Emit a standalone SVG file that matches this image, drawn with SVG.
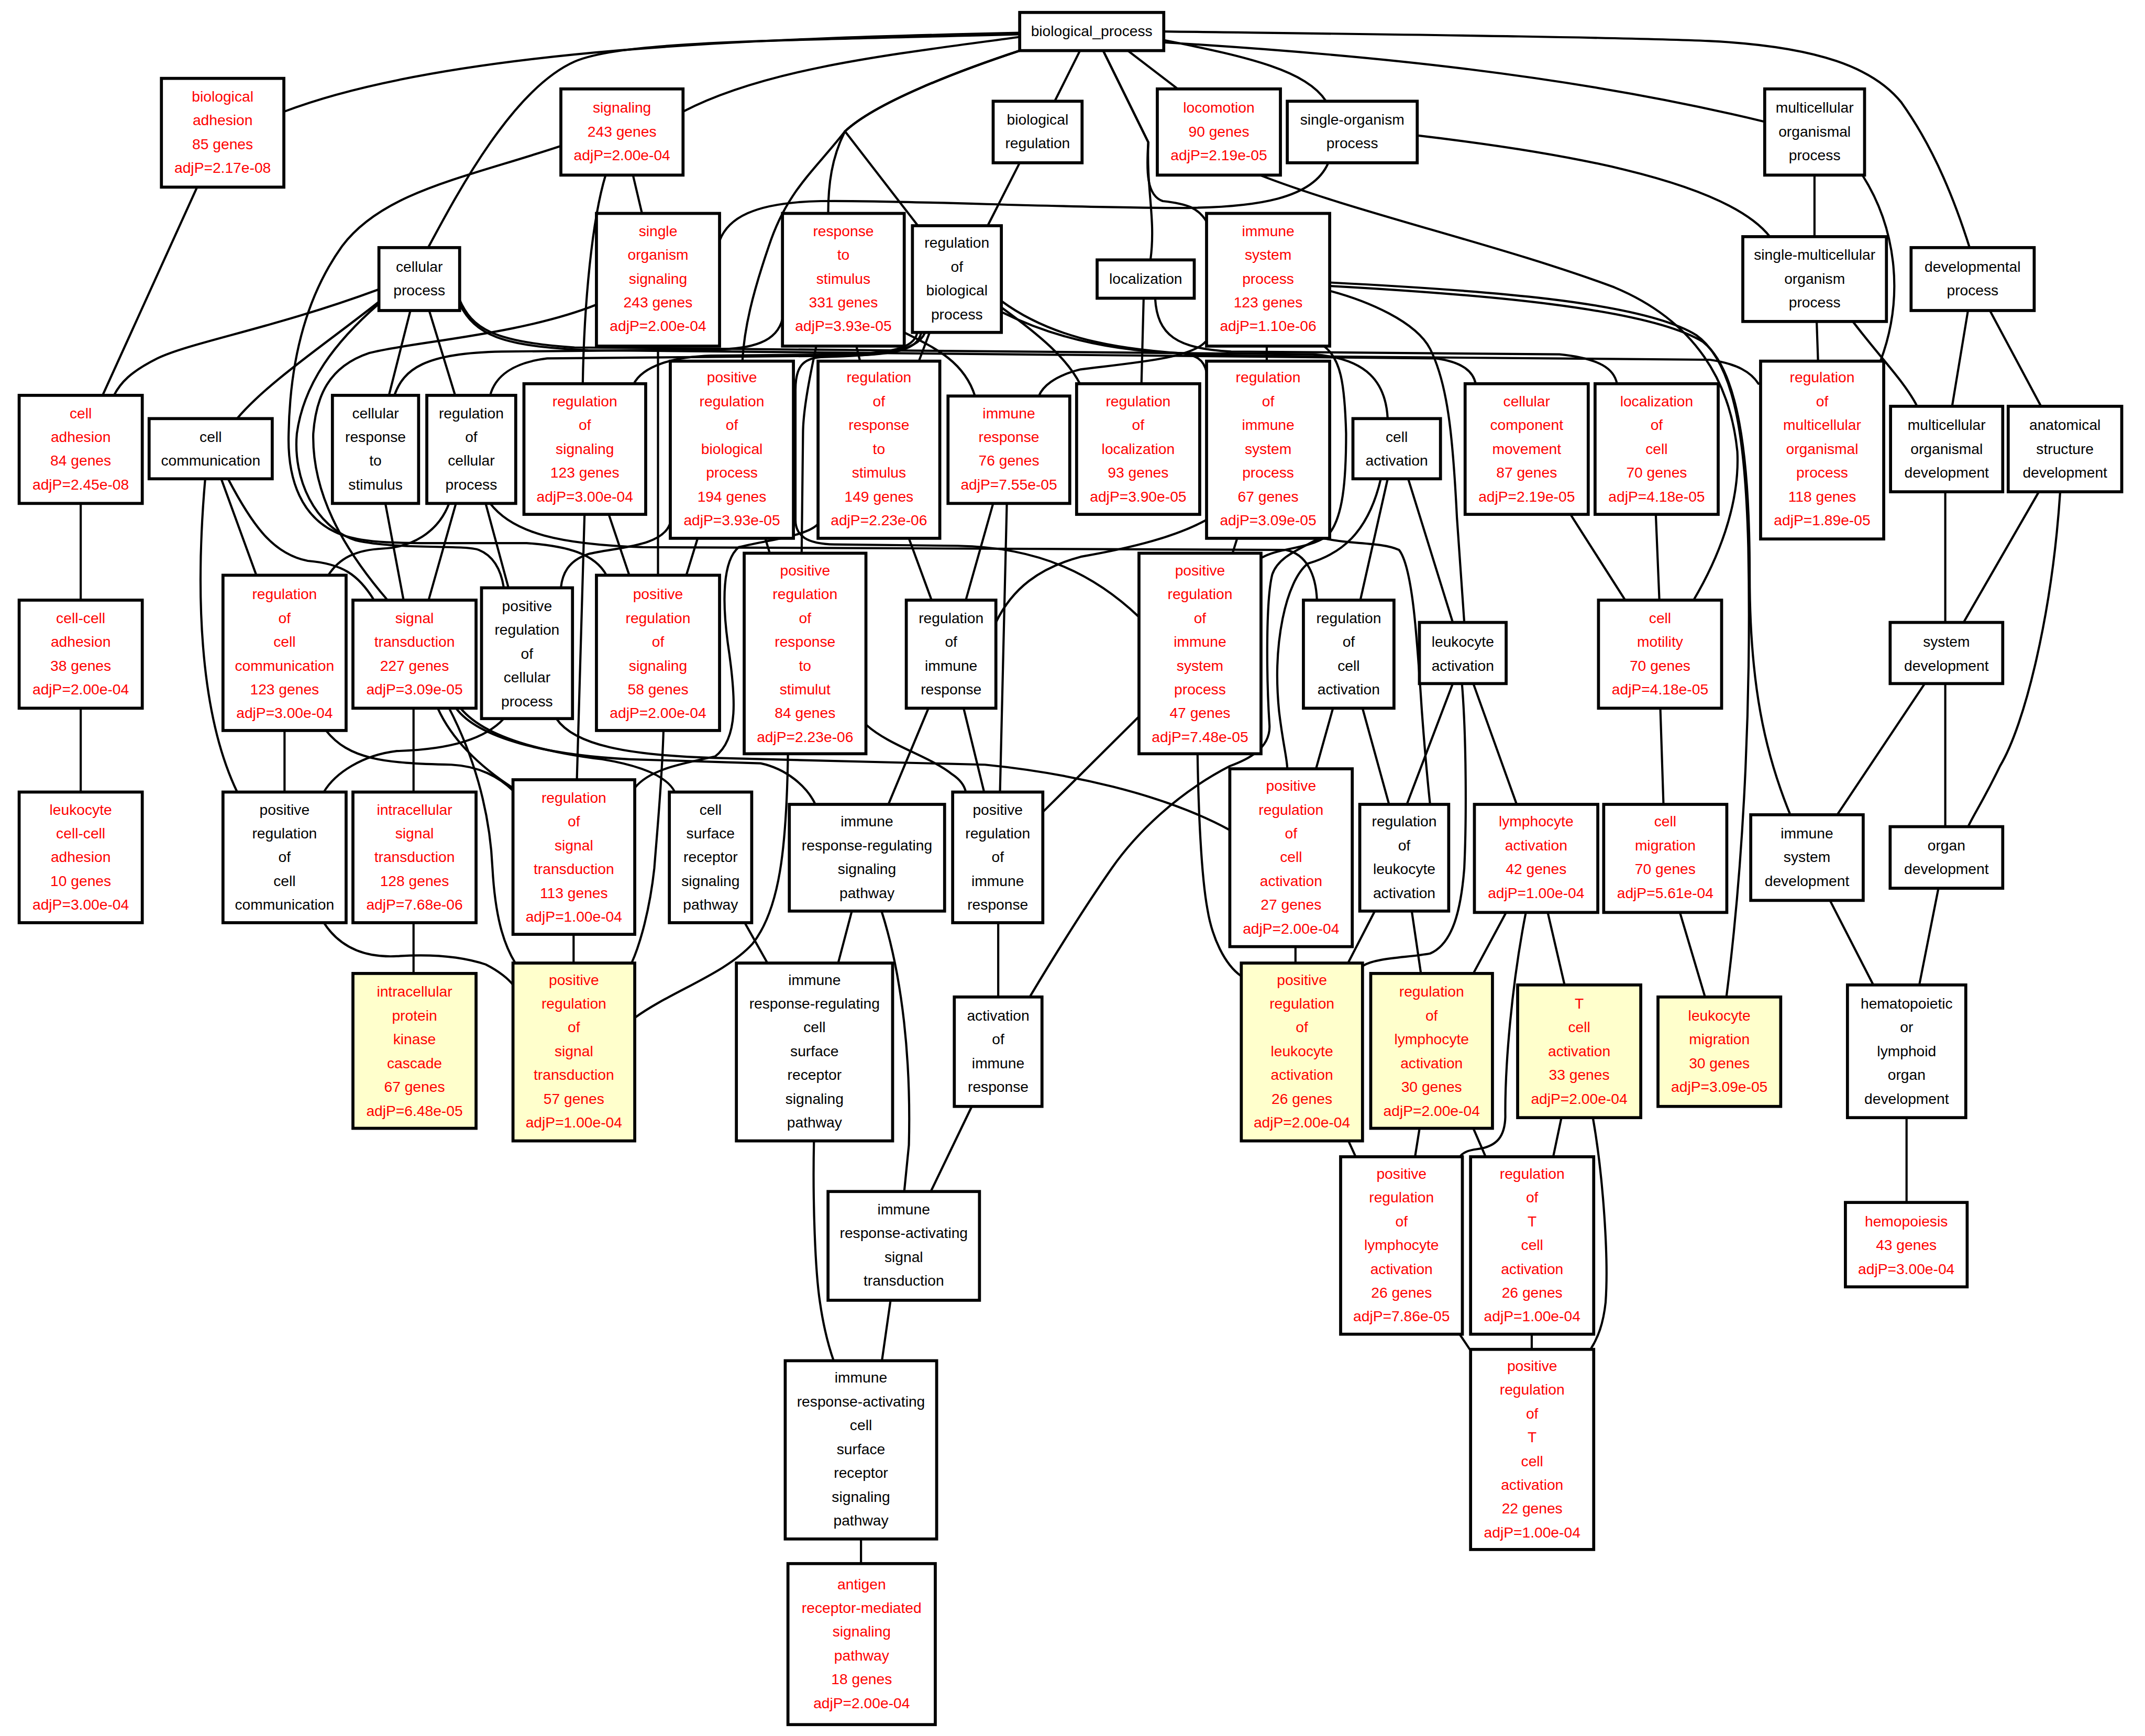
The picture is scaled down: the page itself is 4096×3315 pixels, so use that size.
<svg xmlns="http://www.w3.org/2000/svg" width="4096" height="3315" viewBox="0 0 4096 3315">
<style>
.nb rect{fill:#fff;stroke:#000;stroke-width:2.2}
.ny rect{fill:#ffffcc;stroke:#000;stroke-width:2.2}
text{font-family:"Liberation Sans",Arial,Helvetica,sans-serif;font-size:10.8px;text-anchor:middle}
.k{fill:#000}
.r{fill:#f00}
#edges path{fill:none;stroke:#000;stroke-width:1.6;stroke-linecap:round}
</style>
<rect width="4096" height="3315" fill="#fff"/>
<g transform="scale(2.61224)">
<g id="edges">
<path d="M745.4,24 C560,28 330,35 207.7,81.6"/>
<path d="M745.4,25 C560,30 455,30 420,45 C375,65 335,140 313,181"/>
<path d="M745.4,27 C650,40 560,50 499.3,81.6"/>
<path d="M745.4,37 C700,52 640,75 617.7,96 C608,115 605.4,135 605.4,156"/>
<path d="M745.4,37 C700,52 640,75 617.7,96 L671,165"/>
<path d="M745.4,37 C700,52 640,75 617.7,96 C595,125 575,140 562,180 C550,215 544,240 542.7,264"/>
<path d="M789.5,37 L771,74"/>
<path d="M806.4,37 L839.4,104 C838,140 845,160 841,190"/>
<path d="M806.4,37 L839.4,104 C838,125 838,143 850,147 C868,149 876,152 882,162"/>
<path d="M824.4,37 L861,65"/>
<path d="M851,29.4 C915,42 955,52 969.4,74"/>
<path d="M851,31 C1000,40 1150,55 1290,89"/>
<path d="M851,23 C1000,25 1180,27 1250,30 C1330,34 1370,50 1390,75 C1415,110 1430,150 1439.8,181"/>
<path d="M1036,99 C1130,110 1260,130 1293.8,173"/>
<path d="M971,119 C960,145 920,152 860,152 C780,152 650,146 600,147 C550,148 532,160 526,176"/>
<path d="M1326.4,128 L1326.4,173"/>
<path d="M1361.4,128 C1385,165 1393,215 1374.6,264"/>
<path d="M1328,235 L1329,264"/>
<path d="M1354.4,235 C1375,262 1393,280 1401.4,297"/>
<path d="M1438.6,227 L1427,297"/>
<path d="M1454.6,227 L1492,297"/>
<path d="M144,137 L75,289"/>
<path d="M745.4,119 L722,165"/>
<path d="M462.7,128 L469.3,156"/>
<path d="M442.7,128 C433,160 427,220 426,280.5"/>
<path d="M410,106.7 C340,130 280,140 250,180 C225,215 212,260 211,317 C210,350 220,380 250,391 C270,398 300,397 340,397 L385,397 C415,399 435,405 443.3,420.5"/>
<path d="M277,211.5 C200,240 140,250 115,262 C95,272 88,280 83.3,289"/>
<path d="M277,220.6 C240,250 195,280 173.3,306"/>
<path d="M300,227 L284.3,289"/>
<path d="M313.7,227 L332.7,289"/>
<path d="M277,222 C245,250 222,280 217,317 C214,350 230,385 260,395 C290,402 340,398 350,402 C360,406 366,415 368.3,429.7"/>
<path d="M436,222.7 C380,245 300,250 270,258 C240,268 231,290 229,317 C228,360 250,400 283.3,438.7"/>
<path d="M150,350 C143,430 145,520 173.4,579"/>
<path d="M161.7,350 L187.4,420.5"/>
<path d="M166.7,350 C185,385 200,405 225,410 C250,412 262,420 273.4,438.7"/>
<path d="M281.7,368 L295,438.7"/>
<path d="M328.3,368 C320,390 300,400 280,401 C260,402 248,408 240,420.5"/>
<path d="M333.3,368 L313.3,438.7"/>
<path d="M355,368 L371.7,429.7"/>
<path d="M358.3,368 C375,390 410,398 470,400 L940,402 C955,405 962,420 962.7,438.7"/>
<path d="M572,233 C568,250 550,255 522.7,255.5 L366.7,257 C310,258 295,270 288.3,289"/>
<path d="M596.7,253 C592,275 587,300 587,317 L586,404.4"/>
<path d="M626,253 L628.7,264"/>
<path d="M661,243 C685,255 705,265 712.7,289.5"/>
<path d="M670.4,243.5 C668,255 650,258 620,259 L520,260 C490,261 470,268 463.3,280.5"/>
<path d="M673.4,243.5 C670,256 655,259 620,260 L400,262 C375,265 362,275 358.3,289"/>
<path d="M679.4,243.5 L671.7,264"/>
<path d="M732,224.7 C760,245 780,262 789.4,280.5"/>
<path d="M732,220 C770,248 820,258 900,260 L1250,263 C1270,266 1280,272 1285.4,280.5"/>
<path d="M732,228 C780,252 830,257 860,258 C875,259 880,263 882,272"/>
<path d="M676,243.5 C670,258 640,260 600,261 C587,262 581.5,268 581.5,285 L581.5,380 C581.5,392 590,397.5 610,398 L700,399 C760,400 800,420 832.6,451"/>
<path d="M836,218 L834.4,280.5"/>
<path d="M844.4,218 C846,245 860,255 900,257 L1140,259 C1170,262 1180,270 1182,280.5"/>
<path d="M926,253 L926,264"/>
<path d="M881,250 C870,262 830,265 790,270 C770,275 762,283 759.4,289.5"/>
<path d="M967.7,253 C980,262 983,280 984,317 C984,350 982,380 970,392 C955,402 935,400 921.8,408"/>
<path d="M971.7,212.5 C1000,220 1035,235 1045.4,255 C1058,280 1062,317 1065,378 L1070.4,455"/>
<path d="M971.7,206.5 C1080,212 1200,220 1240,245 C1268,265 1276,320 1278,400 C1280,500 1276,620 1262,728.8"/>
<path d="M971.7,209 C1080,215 1205,225 1245,250 C1270,270 1279,330 1279,420 C1279,500 1290,550 1308.7,595.6"/>
<path d="M921,128 C990,155 1100,180 1180,210 C1240,235 1265,280 1270,330 C1272,370 1255,410 1238,438.7"/>
<path d="M335.7,218.6 C345,240 360,250 420,254 L960,259 C1000,262 1013,280 1014.4,306"/>
<path d="M335.7,222 C348,245 365,253 430,256 L1050,262 C1070,265 1077,272 1078.7,280.5"/>
<path d="M427.3,376 L421.7,570"/>
<path d="M445,376 L460,420.5"/>
<path d="M481,253 L481,420.5"/>
<path d="M510,393.5 L501.7,420.5"/>
<path d="M490,382 C485,400 450,400 430,405 C415,410 411,420 410,429.7"/>
<path d="M559.4,393.5 L562.7,404.4"/>
<path d="M598,383 C590,392 560,395 540,400 C528,410 528,440 532,470 C538,510 540,540 522.7,553 C500,558 475,562 464,576"/>
<path d="M664.4,393.5 L681,438.7"/>
<path d="M726,368 L706,438.7"/>
<path d="M736,368 L731,579"/>
<path d="M882,380 C860,392 830,400 790,407 C760,415 740,430 728,455"/>
<path d="M904.4,393.5 L901,404.4"/>
<path d="M968,393.5 C985,398 1010,396 1022.7,402 C1033,415 1036,470 1039.4,520 C1042,555 1044,575 1045.4,588"/>
<path d="M1014.4,350 L994.4,438.7"/>
<path d="M1029.4,350 L1062,455"/>
<path d="M1009.4,350 C1000,390 980,405 956,412 C940,425 930,470 935,520 C938,545 941,555 941,562"/>
<path d="M970,390 C955,400 935,405 930,420 C925,440 926,500 928,530 C929,548 910,556 899,560 C860,580 830,610 812.7,634.7 C795,660 770,700 752.7,728.8"/>
<path d="M974.4,517.7 L962,562"/>
<path d="M996,517.7 L1015.4,588"/>
<path d="M1062,499.7 L1028.4,588"/>
<path d="M1068.7,499.7 C1072,540 1072,600 1070.4,634.7 C1068,665 1062,690 1045.4,697 C1030,700 1005,700 996,706.2"/>
<path d="M1077,499.7 L1108.7,588"/>
<path d="M1213.7,517.7 L1216,588"/>
<path d="M1148,376 L1188,438.7"/>
<path d="M1210.4,376 L1213,438.7"/>
<path d="M1422,359.5 L1422,455"/>
<path d="M1490.4,359.5 L1435.4,455"/>
<path d="M1506,359.5 C1500,450 1480,530 1462,560 C1450,585 1443,595 1438.7,604.3"/>
<path d="M1407,499.7 L1343,595.6"/>
<path d="M1422,499.7 L1422,604.3"/>
<path d="M1337.7,658.2 L1369.4,720"/>
<path d="M1417,649.3 L1403,720"/>
<path d="M1393.7,817 L1393.7,879"/>
<path d="M1228,667 L1246.4,728.8"/>
<path d="M59,368 L59,438.7"/>
<path d="M59,517.7 L59,579"/>
<path d="M208,534 L208,579"/>
<path d="M238.3,534 C255,555 280,558 330,559 C350,560 365,568 375,578"/>
<path d="M368.3,525.3 C355,540 330,548 290,549 C265,552 245,565 236.7,579"/>
<path d="M406.7,525.3 C420,545 460,552 520,554 L720,559 C780,565 850,580 899,606.8"/>
<path d="M302.3,517.7 L302.3,579"/>
<path d="M320,517.7 C330,540 350,560 375,576"/>
<path d="M328.3,517.7 C345,550 358,590 360,634.7 C362,670 368,690 376.7,704"/>
<path d="M333.3,517.7 C350,540 400,552 460,555 L556,558 C575,562 590,575 596,588"/>
<path d="M336.7,517.7 C355,540 400,550 440,555 C470,560 488,568 493.3,579"/>
<path d="M485,534 C484,570 481,600 478.3,634.7 C475,665 468,690 461.7,704"/>
<path d="M236.7,674.5 C250,695 270,700 290,699 C320,697 340,700 355,705 C365,710 372,716 375,720"/>
<path d="M302.3,674.5 L302.3,711.6"/>
<path d="M419.3,683 L419.3,704"/>
<path d="M576,551 C575,620 570,665 550,690 C530,712 490,725 464,744"/>
<path d="M633.4,530 C650,545 680,553 696,566 C702,570 705,574 706,579"/>
<path d="M544.4,674.5 L561,704"/>
<path d="M622.7,666 L612.7,704"/>
<path d="M644.4,666 C660,715 666,776 664.4,837 L661,871"/>
<path d="M678.7,517.7 L649.4,588"/>
<path d="M704.4,517.7 L719.4,579"/>
<path d="M832.6,523.8 L762.3,593.6"/>
<path d="M875.4,551 C876,590 878,640 882.7,665 C886,685 895,705 907.4,713.6"/>
<path d="M947,692 L947,704"/>
<path d="M1005,666 L985.4,704"/>
<path d="M1032,666 L1038.7,711.6"/>
<path d="M1101,667 L1077,711.6"/>
<path d="M1115.4,667 C1105,720 1100,780 1100.4,816.5 C1100,830 1095,838 1080,840 C1072,841 1069,843 1067,845.6"/>
<path d="M1131.4,667 L1143.7,720"/>
<path d="M985.7,834 L991,845.6"/>
<path d="M1037.7,824.8 L1034.4,845.6"/>
<path d="M1077,824.8 L1086,845.6"/>
<path d="M1141.4,817 L1135.4,845.6"/>
<path d="M1164.4,817 C1172,860 1176,920 1173.7,952 C1172,968 1168,978 1162.7,986.4"/>
<path d="M1067,975.3 L1074.4,986.4"/>
<path d="M1119.7,975.3 L1119.7,986.4"/>
<path d="M595,834 C594,880 596,930 599.4,952 C602,970 606,985 609.4,994.7"/>
<path d="M710.4,808.8 L680.4,871"/>
<path d="M651,950.5 L644.7,994.7"/>
<path d="M629.4,1125 L629.4,1143"/>
<path d="M729.7,674.5 L729.7,728.8"/>
</g>
<g id="n_bp" class="nb"><rect x="745.4" y="9.1" width="105.3" height="27.9"/><text class="k" y="26.35"><tspan x="798.05">biological_process</tspan></text></g>
<g id="n_badh" class="nb"><rect x="118" y="57.3" width="89.5" height="79.5"/><text class="r" y="74.25"><tspan x="162.75">biological</tspan><tspan x="162.75" dy="17.4">adhesion</tspan><tspan x="162.75" dy="17.4">85 genes</tspan><tspan x="162.75" dy="17.4">adjP=2.17e-08</tspan></text></g>
<g id="n_sig" class="nb"><rect x="410" y="65" width="89.3" height="63"/><text class="r" y="82.4"><tspan x="454.65">signaling</tspan><tspan x="454.65" dy="17.4">243 genes</tspan><tspan x="454.65" dy="17.4">adjP=2.00e-04</tspan></text></g>
<g id="n_breg" class="nb"><rect x="726" y="74" width="65" height="45"/><text class="k" y="91.1"><tspan x="758.5">biological</tspan><tspan x="758.5" dy="17.4">regulation</tspan></text></g>
<g id="n_loco" class="nb"><rect x="846" y="65" width="90" height="63"/><text class="r" y="82.4"><tspan x="891">locomotion</tspan><tspan x="891" dy="17.4">90 genes</tspan><tspan x="891" dy="17.4">adjP=2.19e-05</tspan></text></g>
<g id="n_sop" class="nb"><rect x="941" y="74" width="95" height="45"/><text class="k" y="91.1"><tspan x="988.5">single-organism</tspan><tspan x="988.5" dy="17.4">process</tspan></text></g>
<g id="n_mop" class="nb"><rect x="1290" y="65" width="73" height="63"/><text class="k" y="82.4"><tspan x="1326.5">multicellular</tspan><tspan x="1326.5" dy="17.4">organismal</tspan><tspan x="1326.5" dy="17.4">process</tspan></text></g>
<g id="n_cp" class="nb"><rect x="277" y="181" width="59" height="46"/><text class="k" y="198.6"><tspan x="306.5">cellular</tspan><tspan x="306.5" dy="17.4">process</tspan></text></g>
<g id="n_sos" class="nb"><rect x="436" y="156" width="90" height="97"/><text class="r" y="172.5"><tspan x="481">single</tspan><tspan x="481" dy="17.4">organism</tspan><tspan x="481" dy="17.4">signaling</tspan><tspan x="481" dy="17.4">243 genes</tspan><tspan x="481" dy="17.4">adjP=2.00e-04</tspan></text></g>
<g id="n_rts" class="nb"><rect x="572" y="156" width="89" height="97"/><text class="r" y="172.5"><tspan x="616.5">response</tspan><tspan x="616.5" dy="17.4">to</tspan><tspan x="616.5" dy="17.4">stimulus</tspan><tspan x="616.5" dy="17.4">331 genes</tspan><tspan x="616.5" dy="17.4">adjP=3.93e-05</tspan></text></g>
<g id="n_rbp" class="nb"><rect x="667" y="165" width="65" height="78"/><text class="k" y="181.2"><tspan x="699.5">regulation</tspan><tspan x="699.5" dy="17.4">of</tspan><tspan x="699.5" dy="17.4">biological</tspan><tspan x="699.5" dy="17.4">process</tspan></text></g>
<g id="n_loc" class="nb"><rect x="802" y="190" width="71" height="28"/><text class="k" y="207.3"><tspan x="837.5">localization</tspan></text></g>
<g id="n_isp" class="nb"><rect x="882" y="156" width="90" height="97"/><text class="r" y="172.5"><tspan x="927">immune</tspan><tspan x="927" dy="17.4">system</tspan><tspan x="927" dy="17.4">process</tspan><tspan x="927" dy="17.4">123 genes</tspan><tspan x="927" dy="17.4">adjP=1.10e-06</tspan></text></g>
<g id="n_smop" class="nb"><rect x="1274" y="173" width="105" height="62"/><text class="k" y="189.9"><tspan x="1326.5">single-multicellular</tspan><tspan x="1326.5" dy="17.4">organism</tspan><tspan x="1326.5" dy="17.4">process</tspan></text></g>
<g id="n_dev" class="nb"><rect x="1397" y="181" width="90" height="46"/><text class="k" y="198.6"><tspan x="1442">developmental</tspan><tspan x="1442" dy="17.4">process</tspan></text></g>
<g id="n_cadh" class="nb"><rect x="14" y="289" width="90" height="79"/><text class="r" y="305.7"><tspan x="59">cell</tspan><tspan x="59" dy="17.4">adhesion</tspan><tspan x="59" dy="17.4">84 genes</tspan><tspan x="59" dy="17.4">adjP=2.45e-08</tspan></text></g>
<g id="n_ccom" class="nb"><rect x="109" y="306" width="90" height="44"/><text class="k" y="323.1"><tspan x="154">cell</tspan><tspan x="154" dy="17.4">communication</tspan></text></g>
<g id="n_crs" class="nb"><rect x="243" y="289" width="63" height="79"/><text class="k" y="305.7"><tspan x="274.5">cellular</tspan><tspan x="274.5" dy="17.4">response</tspan><tspan x="274.5" dy="17.4">to</tspan><tspan x="274.5" dy="17.4">stimulus</tspan></text></g>
<g id="n_rcp" class="nb"><rect x="312" y="289" width="65" height="79"/><text class="k" y="305.7"><tspan x="344.5">regulation</tspan><tspan x="344.5" dy="17.4">of</tspan><tspan x="344.5" dy="17.4">cellular</tspan><tspan x="344.5" dy="17.4">process</tspan></text></g>
<g id="n_rsig" class="nb"><rect x="383" y="280.5" width="89" height="95.5"/><text class="r" y="297"><tspan x="427.5">regulation</tspan><tspan x="427.5" dy="17.4">of</tspan><tspan x="427.5" dy="17.4">signaling</tspan><tspan x="427.5" dy="17.4">123 genes</tspan><tspan x="427.5" dy="17.4">adjP=3.00e-04</tspan></text></g>
<g id="n_prbp" class="nb"><rect x="490" y="264" width="90" height="129.5"/><text class="r" y="279.6"><tspan x="535">positive</tspan><tspan x="535" dy="17.4">regulation</tspan><tspan x="535" dy="17.4">of</tspan><tspan x="535" dy="17.4">biological</tspan><tspan x="535" dy="17.4">process</tspan><tspan x="535" dy="17.4">194 genes</tspan><tspan x="535" dy="17.4">adjP=3.93e-05</tspan></text></g>
<g id="n_rrs" class="nb"><rect x="598" y="264" width="89" height="129.5"/><text class="r" y="279.6"><tspan x="642.5">regulation</tspan><tspan x="642.5" dy="17.4">of</tspan><tspan x="642.5" dy="17.4">response</tspan><tspan x="642.5" dy="17.4">to</tspan><tspan x="642.5" dy="17.4">stimulus</tspan><tspan x="642.5" dy="17.4">149 genes</tspan><tspan x="642.5" dy="17.4">adjP=2.23e-06</tspan></text></g>
<g id="n_ir" class="nb"><rect x="693" y="289.5" width="89" height="78.5"/><text class="r" y="305.7"><tspan x="737.5">immune</tspan><tspan x="737.5" dy="17.4">response</tspan><tspan x="737.5" dy="17.4">76 genes</tspan><tspan x="737.5" dy="17.4">adjP=7.55e-05</tspan></text></g>
<g id="n_rloc" class="nb"><rect x="787" y="280.5" width="90" height="95.5"/><text class="r" y="297"><tspan x="832">regulation</tspan><tspan x="832" dy="17.4">of</tspan><tspan x="832" dy="17.4">localization</tspan><tspan x="832" dy="17.4">93 genes</tspan><tspan x="832" dy="17.4">adjP=3.90e-05</tspan></text></g>
<g id="n_risp" class="nb"><rect x="882" y="264" width="90" height="129.5"/><text class="r" y="279.6"><tspan x="927">regulation</tspan><tspan x="927" dy="17.4">of</tspan><tspan x="927" dy="17.4">immune</tspan><tspan x="927" dy="17.4">system</tspan><tspan x="927" dy="17.4">process</tspan><tspan x="927" dy="17.4">67 genes</tspan><tspan x="927" dy="17.4">adjP=3.09e-05</tspan></text></g>
<g id="n_cact" class="nb"><rect x="989" y="306" width="64" height="44"/><text class="k" y="323.1"><tspan x="1021">cell</tspan><tspan x="1021" dy="17.4">activation</tspan></text></g>
<g id="n_ccm" class="nb"><rect x="1071" y="280.5" width="90" height="95.5"/><text class="r" y="297"><tspan x="1116">cellular</tspan><tspan x="1116" dy="17.4">component</tspan><tspan x="1116" dy="17.4">movement</tspan><tspan x="1116" dy="17.4">87 genes</tspan><tspan x="1116" dy="17.4">adjP=2.19e-05</tspan></text></g>
<g id="n_loccell" class="nb"><rect x="1166" y="280.5" width="90" height="95.5"/><text class="r" y="297"><tspan x="1211">localization</tspan><tspan x="1211" dy="17.4">of</tspan><tspan x="1211" dy="17.4">cell</tspan><tspan x="1211" dy="17.4">70 genes</tspan><tspan x="1211" dy="17.4">adjP=4.18e-05</tspan></text></g>
<g id="n_rmop" class="nb"><rect x="1287" y="264" width="90" height="130"/><text class="r" y="279.6"><tspan x="1332">regulation</tspan><tspan x="1332" dy="17.4">of</tspan><tspan x="1332" dy="17.4">multicellular</tspan><tspan x="1332" dy="17.4">organismal</tspan><tspan x="1332" dy="17.4">process</tspan><tspan x="1332" dy="17.4">118 genes</tspan><tspan x="1332" dy="17.4">adjP=1.89e-05</tspan></text></g>
<g id="n_mod" class="nb"><rect x="1382" y="297" width="82" height="62.5"/><text class="k" y="314.4"><tspan x="1423">multicellular</tspan><tspan x="1423" dy="17.4">organismal</tspan><tspan x="1423" dy="17.4">development</tspan></text></g>
<g id="n_asd" class="nb"><rect x="1468" y="297" width="83" height="62.5"/><text class="k" y="314.4"><tspan x="1509.5">anatomical</tspan><tspan x="1509.5" dy="17.4">structure</tspan><tspan x="1509.5" dy="17.4">development</tspan></text></g>
<g id="n_ccadh" class="nb"><rect x="14" y="438.7" width="90" height="79"/><text class="r" y="455.4"><tspan x="59">cell-cell</tspan><tspan x="59" dy="17.4">adhesion</tspan><tspan x="59" dy="17.4">38 genes</tspan><tspan x="59" dy="17.4">adjP=2.00e-04</tspan></text></g>
<g id="n_rcc" class="nb"><rect x="163" y="420.5" width="90" height="113.5"/><text class="r" y="438"><tspan x="208">regulation</tspan><tspan x="208" dy="17.4">of</tspan><tspan x="208" dy="17.4">cell</tspan><tspan x="208" dy="17.4">communication</tspan><tspan x="208" dy="17.4">123 genes</tspan><tspan x="208" dy="17.4">adjP=3.00e-04</tspan></text></g>
<g id="n_st" class="nb"><rect x="258" y="438.7" width="90" height="79"/><text class="r" y="455.4"><tspan x="303">signal</tspan><tspan x="303" dy="17.4">transduction</tspan><tspan x="303" dy="17.4">227 genes</tspan><tspan x="303" dy="17.4">adjP=3.09e-05</tspan></text></g>
<g id="n_prcp" class="nb"><rect x="352" y="429.7" width="66.5" height="95.6"/><text class="k" y="446.7"><tspan x="385.25">positive</tspan><tspan x="385.25" dy="17.4">regulation</tspan><tspan x="385.25" dy="17.4">of</tspan><tspan x="385.25" dy="17.4">cellular</tspan><tspan x="385.25" dy="17.4">process</tspan></text></g>
<g id="n_prsig" class="nb"><rect x="436" y="420.5" width="90" height="113.5"/><text class="r" y="438"><tspan x="481">positive</tspan><tspan x="481" dy="17.4">regulation</tspan><tspan x="481" dy="17.4">of</tspan><tspan x="481" dy="17.4">signaling</tspan><tspan x="481" dy="17.4">58 genes</tspan><tspan x="481" dy="17.4">adjP=2.00e-04</tspan></text></g>
<g id="n_prrs" class="nb"><rect x="544" y="404.4" width="89" height="146.6"/><text class="r" y="420.6"><tspan x="588.5">positive</tspan><tspan x="588.5" dy="17.4">regulation</tspan><tspan x="588.5" dy="17.4">of</tspan><tspan x="588.5" dy="17.4">response</tspan><tspan x="588.5" dy="17.4">to</tspan><tspan x="588.5" dy="17.4">stimulut</tspan><tspan x="588.5" dy="17.4">84 genes</tspan><tspan x="588.5" dy="17.4">adjP=2.23e-06</tspan></text></g>
<g id="n_rir" class="nb"><rect x="662.5" y="438.7" width="65.5" height="79"/><text class="k" y="455.4"><tspan x="695.25">regulation</tspan><tspan x="695.25" dy="17.4">of</tspan><tspan x="695.25" dy="17.4">immune</tspan><tspan x="695.25" dy="17.4">response</tspan></text></g>
<g id="n_prisp" class="nb"><rect x="832.6" y="404.4" width="89.2" height="146.6"/><text class="r" y="420.6"><tspan x="877.2">positive</tspan><tspan x="877.2" dy="17.4">regulation</tspan><tspan x="877.2" dy="17.4">of</tspan><tspan x="877.2" dy="17.4">immune</tspan><tspan x="877.2" dy="17.4">system</tspan><tspan x="877.2" dy="17.4">process</tspan><tspan x="877.2" dy="17.4">47 genes</tspan><tspan x="877.2" dy="17.4">adjP=7.48e-05</tspan></text></g>
<g id="n_rca" class="nb"><rect x="952.8" y="438.7" width="66.2" height="79"/><text class="k" y="455.4"><tspan x="985.9">regulation</tspan><tspan x="985.9" dy="17.4">of</tspan><tspan x="985.9" dy="17.4">cell</tspan><tspan x="985.9" dy="17.4">activation</tspan></text></g>
<g id="n_lact" class="nb"><rect x="1037.6" y="455" width="63.4" height="44.7"/><text class="k" y="472.8"><tspan x="1069.3">leukocyte</tspan><tspan x="1069.3" dy="17.4">activation</tspan></text></g>
<g id="n_cmot" class="nb"><rect x="1168.5" y="438.7" width="90" height="79"/><text class="r" y="455.4"><tspan x="1213.5">cell</tspan><tspan x="1213.5" dy="17.4">motility</tspan><tspan x="1213.5" dy="17.4">70 genes</tspan><tspan x="1213.5" dy="17.4">adjP=4.18e-05</tspan></text></g>
<g id="n_sysdev" class="nb"><rect x="1381.7" y="455" width="82.3" height="44.7"/><text class="k" y="472.8"><tspan x="1422.85">system</tspan><tspan x="1422.85" dy="17.4">development</tspan></text></g>
<g id="n_lccadh" class="nb"><rect x="14" y="579" width="90" height="95.5"/><text class="r" y="595.5"><tspan x="59">leukocyte</tspan><tspan x="59" dy="17.4">cell-cell</tspan><tspan x="59" dy="17.4">adhesion</tspan><tspan x="59" dy="17.4">10 genes</tspan><tspan x="59" dy="17.4">adjP=3.00e-04</tspan></text></g>
<g id="n_prcc" class="nb"><rect x="163" y="579" width="90" height="95.5"/><text class="k" y="595.5"><tspan x="208">positive</tspan><tspan x="208" dy="17.4">regulation</tspan><tspan x="208" dy="17.4">of</tspan><tspan x="208" dy="17.4">cell</tspan><tspan x="208" dy="17.4">communication</tspan></text></g>
<g id="n_ist" class="nb"><rect x="258" y="579" width="90" height="95.5"/><text class="r" y="595.5"><tspan x="303">intracellular</tspan><tspan x="303" dy="17.4">signal</tspan><tspan x="303" dy="17.4">transduction</tspan><tspan x="303" dy="17.4">128 genes</tspan><tspan x="303" dy="17.4">adjP=7.68e-06</tspan></text></g>
<g id="n_rst" class="nb"><rect x="375" y="570" width="89" height="113"/><text class="r" y="586.8"><tspan x="419.5">regulation</tspan><tspan x="419.5" dy="17.4">of</tspan><tspan x="419.5" dy="17.4">signal</tspan><tspan x="419.5" dy="17.4">transduction</tspan><tspan x="419.5" dy="17.4">113 genes</tspan><tspan x="419.5" dy="17.4">adjP=1.00e-04</tspan></text></g>
<g id="n_csr" class="nb"><rect x="489.3" y="579" width="60.2" height="95.5"/><text class="k" y="595.5"><tspan x="519.4">cell</tspan><tspan x="519.4" dy="17.4">surface</tspan><tspan x="519.4" dy="17.4">receptor</tspan><tspan x="519.4" dy="17.4">signaling</tspan><tspan x="519.4" dy="17.4">pathway</tspan></text></g>
<g id="n_irrsp" class="nb"><rect x="577" y="588" width="113.5" height="78"/><text class="k" y="604.2"><tspan x="633.75">immune</tspan><tspan x="633.75" dy="17.4">response-regulating</tspan><tspan x="633.75" dy="17.4">signaling</tspan><tspan x="633.75" dy="17.4">pathway</tspan></text></g>
<g id="n_prir" class="nb"><rect x="696.4" y="579" width="65.9" height="95.5"/><text class="k" y="595.5"><tspan x="729.35">positive</tspan><tspan x="729.35" dy="17.4">regulation</tspan><tspan x="729.35" dy="17.4">of</tspan><tspan x="729.35" dy="17.4">immune</tspan><tspan x="729.35" dy="17.4">response</tspan></text></g>
<g id="n_prca" class="nb"><rect x="899" y="562" width="89.5" height="130"/><text class="r" y="578.1"><tspan x="943.75">positive</tspan><tspan x="943.75" dy="17.4">regulation</tspan><tspan x="943.75" dy="17.4">of</tspan><tspan x="943.75" dy="17.4">cell</tspan><tspan x="943.75" dy="17.4">activation</tspan><tspan x="943.75" dy="17.4">27 genes</tspan><tspan x="943.75" dy="17.4">adjP=2.00e-04</tspan></text></g>
<g id="n_rla" class="nb"><rect x="994" y="588" width="65" height="78"/><text class="k" y="604.2"><tspan x="1026.5">regulation</tspan><tspan x="1026.5" dy="17.4">of</tspan><tspan x="1026.5" dy="17.4">leukocyte</tspan><tspan x="1026.5" dy="17.4">activation</tspan></text></g>
<g id="n_lyact" class="nb"><rect x="1077.8" y="588" width="90.2" height="79"/><text class="r" y="604.2"><tspan x="1122.9">lymphocyte</tspan><tspan x="1122.9" dy="17.4">activation</tspan><tspan x="1122.9" dy="17.4">42 genes</tspan><tspan x="1122.9" dy="17.4">adjP=1.00e-04</tspan></text></g>
<g id="n_cmig" class="nb"><rect x="1172.3" y="588" width="90" height="79"/><text class="r" y="604.2"><tspan x="1217.3">cell</tspan><tspan x="1217.3" dy="17.4">migration</tspan><tspan x="1217.3" dy="17.4">70 genes</tspan><tspan x="1217.3" dy="17.4">adjP=5.61e-04</tspan></text></g>
<g id="n_isd" class="nb"><rect x="1279.8" y="595.6" width="82.2" height="62.6"/><text class="k" y="612.9"><tspan x="1320.9">immune</tspan><tspan x="1320.9" dy="17.4">system</tspan><tspan x="1320.9" dy="17.4">development</tspan></text></g>
<g id="n_orgdev" class="nb"><rect x="1381.7" y="604.3" width="82.3" height="45"/><text class="k" y="621.6"><tspan x="1422.85">organ</tspan><tspan x="1422.85" dy="17.4">development</tspan></text></g>
<g id="n_ipkc" class="ny"><rect x="258" y="711.6" width="90" height="113.2"/><text class="r" y="728.6"><tspan x="303">intracellular</tspan><tspan x="303" dy="17.4">protein</tspan><tspan x="303" dy="17.4">kinase</tspan><tspan x="303" dy="17.4">cascade</tspan><tspan x="303" dy="17.4">67 genes</tspan><tspan x="303" dy="17.4">adjP=6.48e-05</tspan></text></g>
<g id="n_prst" class="ny"><rect x="375" y="704" width="89" height="130"/><text class="r" y="719.9"><tspan x="419.5">positive</tspan><tspan x="419.5" dy="17.4">regulation</tspan><tspan x="419.5" dy="17.4">of</tspan><tspan x="419.5" dy="17.4">signal</tspan><tspan x="419.5" dy="17.4">transduction</tspan><tspan x="419.5" dy="17.4">57 genes</tspan><tspan x="419.5" dy="17.4">adjP=1.00e-04</tspan></text></g>
<g id="n_irrcsr" class="nb"><rect x="538.3" y="704" width="114.2" height="130"/><text class="k" y="719.9"><tspan x="595.4">immune</tspan><tspan x="595.4" dy="17.4">response-regulating</tspan><tspan x="595.4" dy="17.4">cell</tspan><tspan x="595.4" dy="17.4">surface</tspan><tspan x="595.4" dy="17.4">receptor</tspan><tspan x="595.4" dy="17.4">signaling</tspan><tspan x="595.4" dy="17.4">pathway</tspan></text></g>
<g id="n_air" class="nb"><rect x="697.6" y="728.8" width="64.1" height="80"/><text class="k" y="746"><tspan x="729.65">activation</tspan><tspan x="729.65" dy="17.4">of</tspan><tspan x="729.65" dy="17.4">immune</tspan><tspan x="729.65" dy="17.4">response</tspan></text></g>
<g id="n_prla" class="ny"><rect x="907.4" y="704" width="88.6" height="130"/><text class="r" y="719.9"><tspan x="951.7">positive</tspan><tspan x="951.7" dy="17.4">regulation</tspan><tspan x="951.7" dy="17.4">of</tspan><tspan x="951.7" dy="17.4">leukocyte</tspan><tspan x="951.7" dy="17.4">activation</tspan><tspan x="951.7" dy="17.4">26 genes</tspan><tspan x="951.7" dy="17.4">adjP=2.00e-04</tspan></text></g>
<g id="n_rlya" class="ny"><rect x="1002" y="711.6" width="89" height="113.2"/><text class="r" y="728.6"><tspan x="1046.5">regulation</tspan><tspan x="1046.5" dy="17.4">of</tspan><tspan x="1046.5" dy="17.4">lymphocyte</tspan><tspan x="1046.5" dy="17.4">activation</tspan><tspan x="1046.5" dy="17.4">30 genes</tspan><tspan x="1046.5" dy="17.4">adjP=2.00e-04</tspan></text></g>
<g id="n_tca" class="ny"><rect x="1109.4" y="720" width="90" height="97"/><text class="r" y="737.3"><tspan x="1154.4">T</tspan><tspan x="1154.4" dy="17.4">cell</tspan><tspan x="1154.4" dy="17.4">activation</tspan><tspan x="1154.4" dy="17.4">33 genes</tspan><tspan x="1154.4" dy="17.4">adjP=2.00e-04</tspan></text></g>
<g id="n_lmig" class="ny"><rect x="1212" y="728.8" width="89.7" height="80"/><text class="r" y="746"><tspan x="1256.85">leukocyte</tspan><tspan x="1256.85" dy="17.4">migration</tspan><tspan x="1256.85" dy="17.4">30 genes</tspan><tspan x="1256.85" dy="17.4">adjP=3.09e-05</tspan></text></g>
<g id="n_hlod" class="nb"><rect x="1350.5" y="720" width="86.5" height="97"/><text class="k" y="737.3"><tspan x="1393.75">hematopoietic</tspan><tspan x="1393.75" dy="17.4">or</tspan><tspan x="1393.75" dy="17.4">lymphoid</tspan><tspan x="1393.75" dy="17.4">organ</tspan><tspan x="1393.75" dy="17.4">development</tspan></text></g>
<g id="n_irast" class="nb"><rect x="605.3" y="871" width="110.7" height="79.5"/><text class="k" y="887.7"><tspan x="660.65">immune</tspan><tspan x="660.65" dy="17.4">response-activating</tspan><tspan x="660.65" dy="17.4">signal</tspan><tspan x="660.65" dy="17.4">transduction</tspan></text></g>
<g id="n_prlya" class="nb"><rect x="980" y="845.6" width="89" height="129.7"/><text class="r" y="861.6"><tspan x="1024.5">positive</tspan><tspan x="1024.5" dy="17.4">regulation</tspan><tspan x="1024.5" dy="17.4">of</tspan><tspan x="1024.5" dy="17.4">lymphocyte</tspan><tspan x="1024.5" dy="17.4">activation</tspan><tspan x="1024.5" dy="17.4">26 genes</tspan><tspan x="1024.5" dy="17.4">adjP=7.86e-05</tspan></text></g>
<g id="n_rtca" class="nb"><rect x="1075" y="845.6" width="90" height="129.7"/><text class="r" y="861.6"><tspan x="1120">regulation</tspan><tspan x="1120" dy="17.4">of</tspan><tspan x="1120" dy="17.4">T</tspan><tspan x="1120" dy="17.4">cell</tspan><tspan x="1120" dy="17.4">activation</tspan><tspan x="1120" dy="17.4">26 genes</tspan><tspan x="1120" dy="17.4">adjP=1.00e-04</tspan></text></g>
<g id="n_hemo" class="nb"><rect x="1349" y="879" width="89" height="61.7"/><text class="r" y="896.4"><tspan x="1393.5">hemopoiesis</tspan><tspan x="1393.5" dy="17.4">43 genes</tspan><tspan x="1393.5" dy="17.4">adjP=3.00e-04</tspan></text></g>
<g id="n_iracsr" class="nb"><rect x="574" y="994.7" width="110.7" height="130.3"/><text class="k" y="1010.8"><tspan x="629.35">immune</tspan><tspan x="629.35" dy="17.4">response-activating</tspan><tspan x="629.35" dy="17.4">cell</tspan><tspan x="629.35" dy="17.4">surface</tspan><tspan x="629.35" dy="17.4">receptor</tspan><tspan x="629.35" dy="17.4">signaling</tspan><tspan x="629.35" dy="17.4">pathway</tspan></text></g>
<g id="n_prtca" class="nb"><rect x="1075" y="986.4" width="90" height="146.3"/><text class="r" y="1002.1"><tspan x="1120">positive</tspan><tspan x="1120" dy="17.4">regulation</tspan><tspan x="1120" dy="17.4">of</tspan><tspan x="1120" dy="17.4">T</tspan><tspan x="1120" dy="17.4">cell</tspan><tspan x="1120" dy="17.4">activation</tspan><tspan x="1120" dy="17.4">22 genes</tspan><tspan x="1120" dy="17.4">adjP=1.00e-04</tspan></text></g>
<g id="n_antigen" class="nb"><rect x="576" y="1143" width="107.7" height="117.7"/><text class="r" y="1161.65"><tspan x="629.85">antigen</tspan><tspan x="629.85" dy="17.4">receptor-mediated</tspan><tspan x="629.85" dy="17.4">signaling</tspan><tspan x="629.85" dy="17.4">pathway</tspan><tspan x="629.85" dy="17.4">18 genes</tspan><tspan x="629.85" dy="17.4">adjP=2.00e-04</tspan></text></g>
</g>
</svg>
